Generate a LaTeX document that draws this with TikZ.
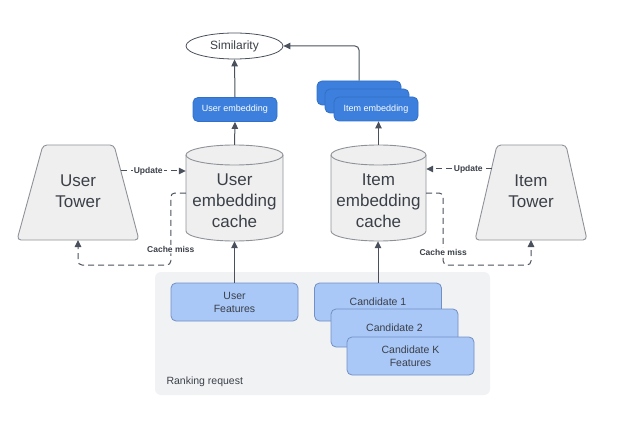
\documentclass[tikz,border=0pt]{standalone}
\usepackage{fontspec}
\setmainfont{Liberation Sans}
\usetikzlibrary{arrows.meta,shapes.geometric}
\definecolor{txt}{HTML}{3B4048}
\definecolor{arrc}{HTML}{4A515C}
\definecolor{shd}{HTML}{8E9298}
\definecolor{shf}{HTML}{EFEFEF}
\definecolor{emb}{HTML}{3C7FDC}
\definecolor{embd}{HTML}{3270C8}
\definecolor{feat}{HTML}{A9C7F7}
\definecolor{featd}{HTML}{7290C2}
\definecolor{reqbg}{HTML}{F1F2F4}
\tikzset{
  arr/.style={draw=arrc, line width=1pt, -{Triangle[length=7pt,width=6.5pt]}},
  dsh/.style={arr, dash pattern=on 6pt off 4pt},
  lbl/.style={font=\bfseries\fontsize{8.5}{10}\selectfont, text=txt, fill=white, inner sep=1pt},
  big/.style={font=\fontsize{17}{21}\selectfont, text=txt, align=center},
  embbox/.style={draw=embd, fill=emb, rounded corners=5pt, minimum width=84pt, minimum height=24pt, text=white, font=\fontsize{9}{10}\selectfont, line width=0.8pt, inner sep=0pt},
  featbox/.style={draw=featd, fill=feat, rounded corners=5pt, minimum width=127pt, minimum height=38pt, text=txt, font=\fontsize{10.5}{13}\selectfont, align=center, line width=0.8pt, inner sep=0pt},
  shapefill/.style={draw=shd, fill=shf, line width=0.9pt},
  anchorbox/.style={rectangle, inner sep=0pt, minimum width=#1},
}
\begin{document}
\begin{tikzpicture}[x=1pt,y=-1pt]
\useasboundingbox (0,0) rectangle (623,422);

% ranking request background
\node[fill=reqbg, rounded corners=6pt, minimum width=335pt, minimum height=123pt, inner sep=0pt] (req) at (322.5,333.5) {};
\node[anchor=west, font=\fontsize{10.5}{12}\selectfont, text=txt] (reqlbl) at (163,382) {Ranking request};

% feature boxes
\node[featbox] (ufeat) at (234.5,302) {User\\Features};
\node[featbox] (cand1) at (378,302) {Candidate 1};
\node[featbox] (cand2) at (394.5,328) {Candidate 2};
\node[featbox] (candk) at (410.5,356) {Candidate K\\Features};

% towers
\path[shapefill, rounded corners=4pt] (43,145) -- (114,145) -- (139,240) -- (17,240) -- cycle;
\node[big] (utower) at (78,191) {User\\Tower};
\coordinate (utR) at (121,171);
\coordinate (utB) at (78,240);

\path[shapefill, rounded corners=4pt] (497,145) -- (566,145) -- (587,240) -- (475,240) -- cycle;
\node[big] (itower) at (531,191) {Item\\Tower};
\coordinate (itL) at (492,169);
\coordinate (itB) at (531,240);

% user cache cylinder
\path[shapefill] (186,155) -- (186,231) arc[start angle=180,end angle=360,x radius=48.5pt,y radius=10pt] -- (283,155) arc[start angle=0,end angle=180,x radius=48.5pt,y radius=10pt] -- cycle;
\draw[draw=shd, line width=0.9pt] (186,155) arc[start angle=180,end angle=360,x radius=48.5pt,y radius=10pt];
\node[anchorbox=97pt, minimum height=96pt] (ucache) at (234.5,193) {};
\node[big] (ucachelbl) at (234.5,201) {User\\embedding\\cache};

% item cache cylinder
\path[shapefill] (331,155) -- (331,231) arc[start angle=180,end angle=360,x radius=47.5pt,y radius=10pt] -- (426,155) arc[start angle=0,end angle=180,x radius=47.5pt,y radius=10pt] -- cycle;
\draw[draw=shd, line width=0.9pt] (331,155) arc[start angle=180,end angle=360,x radius=47.5pt,y radius=10pt];
\node[anchorbox=95pt, minimum height=96pt] (icache) at (378.5,193) {};
\node[big] (icachelbl) at (378.5,201) {Item\\embedding\\cache};

% embeddings
\node[embbox] (uemb) at (235,109.5) {User embedding};
\node[embbox] (iemb3) at (359,93) {};
\node[embbox] (iemb2) at (367,101) {};
\node[embbox] (iemb1) at (376,109) {Item embedding};

% similarity
\node[ellipse, draw=arrc, fill=white, line width=0.8pt, minimum width=97pt, minimum height=26pt, inner sep=0pt, text=txt, font=\fontsize{12}{14}\selectfont] (sim) at (234.5,46) {Similarity};

% connectors
\draw[arr] (uemb.north) -- (sim.south);
\draw[arr, rounded corners=4pt] (iemb3.north) |- (sim.east);
\draw[arr] (ucache.north) -- (uemb.south);
\draw[arr] (icache.north) -- (icache.north |- iemb1.south);
\draw[arr] (ufeat.north) -- (ucache.south);
\draw[arr] (cand1.north) -- (cand1.north |- icache.south);

\draw[dsh] (utR) -- (utR -| ucache.west) node[lbl, pos=0.42] {Update};
\draw[dsh] (itL) -- (itL -| icache.east) node[lbl, pos=0.36] {Update};

\draw[dsh, rounded corners=4pt] (ucache.west) -- ++(-15,0) -- ++(0,72) node[lbl, pos=0.78] {Cache miss} -| (utB);
\draw[dsh, rounded corners=4pt] (icache.east) -- ++(17,0) -- ++(0,72) node[lbl, pos=0.82] {Cache miss} -| (itB);
\end{tikzpicture}
\end{document}
